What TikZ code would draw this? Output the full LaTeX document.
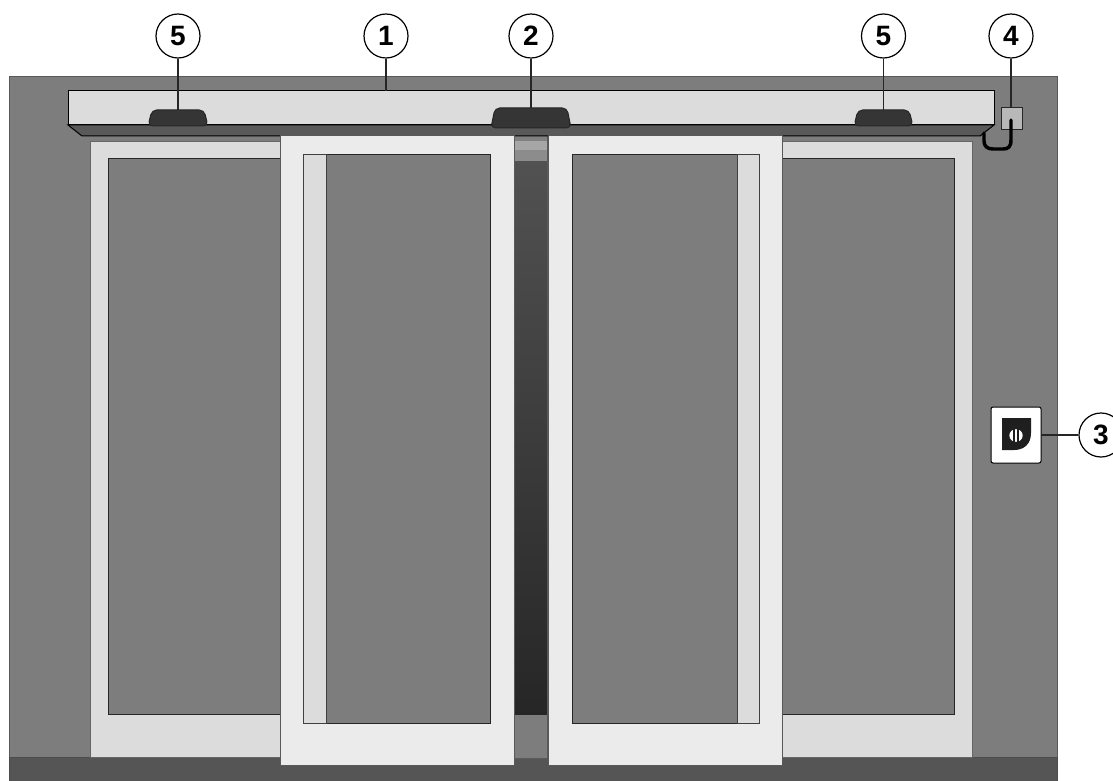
\documentclass[tikz,border=0pt]{standalone}
\usepackage{fontspec}
\setmainfont{Liberation Sans}
\usepackage{xcolor}
\usetikzlibrary{shapes.geometric}
\definecolor{wallgray}{HTML}{7D7D7D}
\definecolor{floorgray}{HTML}{555555}
\definecolor{framegray}{HTML}{DCDCDC}
\definecolor{leafgray}{HTML}{EBEBEB}
\definecolor{sensorgray}{HTML}{353535}

\begin{document}
\begin{tikzpicture}[
    x=0.75pt, y=-0.75pt,
    size/.style 2 args={minimum width=#1*0.75pt, minimum height=#2*0.75pt},
    panel/.style={draw=black!80, line width=0.75pt, rectangle, anchor=north west, inner sep=0pt, outer sep=0pt},
    wallbox/.style={panel, fill=wallgray, draw=black!65},
    framebox/.style={panel, fill=framegray, draw=black!60},
    leafbox/.style={panel, fill=leafgray, draw=black!65},
    glassbox/.style={panel, fill=wallgray, draw=black!85},
    stripbox/.style={panel, fill=framegray, draw=black!75},
    sensor/.style={draw=black!85, fill=sensorgray, line width=0.75pt, rounded corners=3.5pt},
    tag/.style={draw, circle, fill=white, line width=0.9pt, minimum size=33pt, inner sep=0pt, font=\fontsize{21}{21}\selectfont\bfseries},
    leader/.style={draw=black!85, line width=0.9pt},
]
\useasboundingbox (0,0) rectangle (1113,781);

% ---- Wall and floor ----
\node[wallbox, size={1048}{680}] (wall) at (9.5,77) {};
\node[panel, fill=floorgray, draw=black!70, size={1048}{25}] (floor) at (9.5,757) {};

% ---- Fixed leaves ----
\node[framebox, size={882}{615}] (fixed) at (90,142) {};
\node[glassbox, size={175}{555}] (glassL) at (108,159) {};
\node[glassbox, size={175}{555}] (glassR) at (779,159) {};

% ---- Opening between the leaves ----
\node[panel, fill=wallgray, draw=black!65, size={34}{622}] (gap) at (514,136) {};
\node[panel, draw=none, top color=black!68, bottom color=black!85, size={34}{553}] (gapdark) at (514,161) {};
\fill[black!50] (gap.north west) rectangle ++(34,5);
\fill[black!35] ([yshift=-3.75pt]gap.north west) rectangle ++(34,9);
\fill[black!45] ([yshift=-10.5pt]gap.north west) rectangle ++(34,11);
\draw[leader, black!65] (gap.north west) -- (gap.south west) (gap.north east) -- (gap.south east);

% ---- Operator housing ----
\node[panel, fill=framegray, draw=black, size={926}{34}] (header) at (68,91) {};
\draw[fill=black!65, line width=0.75pt] (header.south west) -- ++(14,11) -- (980,136) -- (header.south east) -- cycle;

% ---- Sliding leaves ----
\node[leafbox, size={234}{629}] (leafL) at (280,136) {};
\node[glassbox, size={164}{568}] (paneL) at (326,155) {};
\node[stripbox, size={23}{568}] (stripL) at (303,155) {};
\node[leafbox, size={234}{629}] (leafR) at (548,136) {};
\node[glassbox, size={165}{568}] (paneR) at (572,155) {};
\node[stripbox, size={22}{568}] (stripR) at (737,155) {};

% ---- Sensors ----
\foreach \nm/\cx/\bot/\hw/\ht in {sensorL/178/126/30/16, drive/531/128/40/20, sensorR/883.5/126/29.5/16}{
  \draw[sensor, shift={(\cx,\bot)}] (-\hw,0) -- (4-\hw,-\ht) -- (\hw-4,-\ht) -- (\hw,0) -- cycle;
  \coordinate (\nm) at (\cx,\bot-\ht);
}

% ---- Switch and cable ----
\node[panel, fill=black!28, draw=black!85, size={21}{22}] (switch) at (1001,108) {};
\coordinate (cableIn) at (1011,120);
\coordinate (cableOut) at (984,133);
\draw[line width=2.6pt, line cap=round, black] (cableIn) -- (1011,140) .. controls (1011,147) and (1008,149) .. (1003,149) -- (993,149) .. controls (987,149) and (984,146) .. (984,141) -- (cableOut);

% ---- Control panel ----
\node[panel, fill=white, draw=black, rounded corners=1.5pt, size={50}{56}] (control) at (991,407) {};
\fill[black!88] (1002,418) -- (1031,418) -- (1031,433) .. controls (1031,444) and (1024,450) .. (1014,450) -- (1002,450) -- cycle;
\node[ellipse, fill=white, minimum width=10pt, minimum height=9.5pt, inner sep=0pt] (logo) at (1016,435.5) {};
\draw[black!88, line width=1pt] ([xshift=-1.6pt]logo.north) -- ([xshift=-1.6pt]logo.south) ([xshift=1.6pt]logo.north) -- ([xshift=1.6pt]logo.south);

% ---- Numbered tags ----
\node[tag] (tagA) at (178,36) {5};
\node[tag] (tagB) at (386,36) {1};
\node[tag] (tagC) at (531,36) {2};
\node[tag] (tagD) at (883.5,36) {5};
\node[tag] (tagE) at (1011,36) {4};
\node[tag] (tagF) at (1101,435) {3};

\draw[leader] (tagA) -- (sensorL);
\draw[leader] (tagB) -- (tagB |- header.north);
\draw[leader] (tagC) -- (drive);
\draw[leader] (tagD) -- (sensorR);
\draw[leader] (tagE) -- (tagE |- switch.north);
\draw[leader] (tagF) -- (control.east |- tagF);
\end{tikzpicture}
\end{document}
